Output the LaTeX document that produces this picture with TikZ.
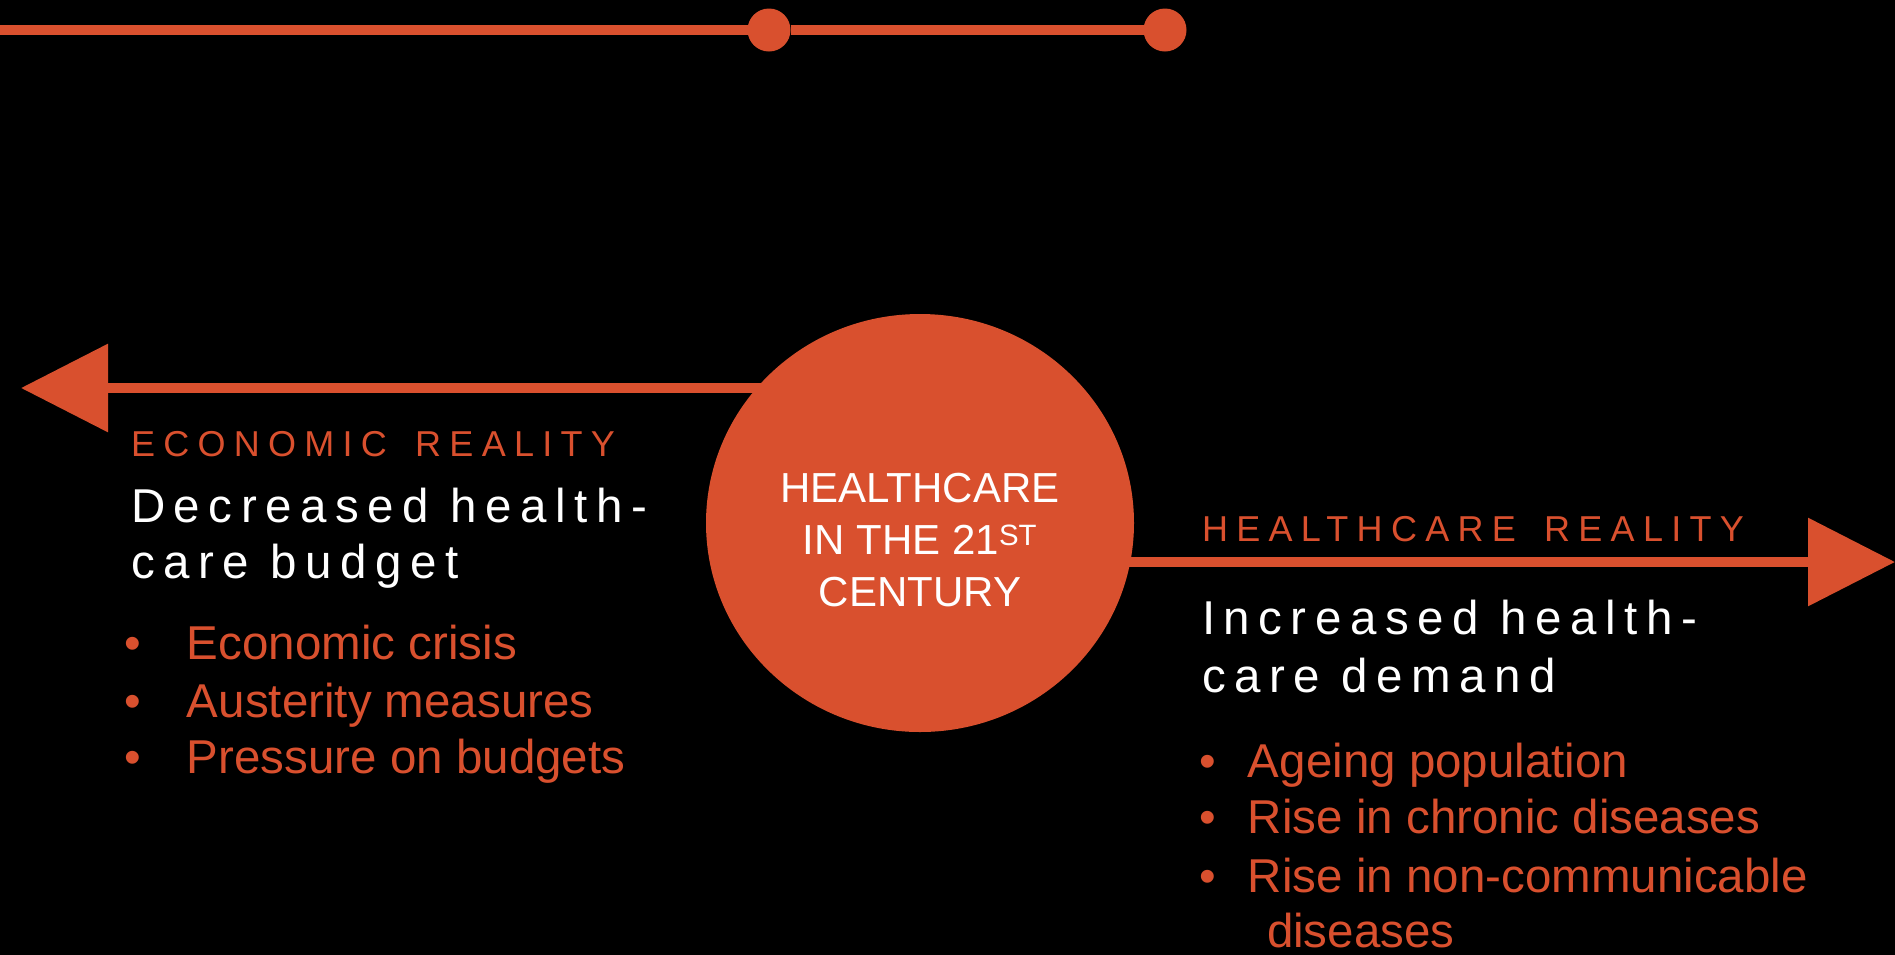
\documentclass[tikz,border=0pt]{standalone}
\usepackage{fontspec}
\setmainfont{Liberation Sans}
\newfontfamily\headfont[LetterSpace=18]{Liberation Sans}
\newfontfamily\capsfont[LetterSpace=23]{Liberation Sans}
\usetikzlibrary{shapes.geometric,arrows.meta}
\definecolor{rust}{RGB}{217,80,46}

\begin{document}
\begin{tikzpicture}[x=1pt,y=-1pt]
\tikzstyle{every node}=[inner sep=0pt, outer sep=0pt]
\tikzstyle{knob}=[circle, fill=rust, minimum size=43pt]
\tikzstyle{bar}=[draw=rust, line width=10pt]
\tikzstyle{bigtip}=[-{Triangle[length=87pt,width=86pt]}]
\tikzstyle{caption}=[anchor=base west, text=rust, font=\capsfont\fontsize{36}{40}\selectfont]
\tikzstyle{subhead}=[anchor=base west, text=white, font=\headfont\fontsize{47.5}{56}\selectfont]
\tikzstyle{point}=[anchor=base west, text=rust, font=\fontsize{47.5}{56}\selectfont]
\useasboundingbox (0,0) rectangle (1895,954);
\fill[black] (-3,-3) rectangle (1898,957);
\coordinate (start) at (0,30);
\node[knob] (k1) at (769,30) {};
\node[knob] (k2) at (1165,30) {};
\draw[bar] (start) -- (k1) -- (k2);
\coordinate (hubc) at (920,523);
\coordinate (lefttip) at (21,388);
\coordinate (righttip) at (1895,562);
\draw[bar, bigtip] (hubc |- lefttip) -- (lefttip);
\draw[bar, bigtip] (hubc |- righttip) -- (righttip);
\node[ellipse, fill=rust, minimum width=428pt, minimum height=418pt] (hub) at (hubc) {};
\node[align=center, text=white, font=\fontsize{42}{52}\selectfont] (hubtext)
  at ([yshift=-17pt]hub.center) {HEALTHCARE\\IN THE 21\textsuperscript{ST}\\CENTURY};
\node[caption] (econ) at (131,456) {ECONOMIC\hspace{10pt} REALITY};
\node[subhead] (dec1) at (131,522) {Decreased health-};
\node[subhead] (dec2) at (131,578) {care budget};
\node[point] (e1) at (124,659) {\makebox[63pt][l]{\textbullet}Economic crisis};
\node[point] (e2) at (124,717) {\makebox[63pt][l]{\textbullet}Austerity measures};
\node[point] (e3) at (124,773) {\makebox[63pt][l]{\textbullet}Pressure on budgets};
\node[caption] (hcare) at (1202,541) {HEALTHCARE\hspace{10pt} REALITY};
\node[subhead] (inc1) at (1202,634) {Increased health-};
\node[subhead] (inc2) at (1202,692) {care demand};
\node[point] (d1) at (1199,777) {\makebox[49pt][l]{\textbullet}Ageing population};
\node[point] (d2) at (1199,833) {\makebox[49pt][l]{\textbullet}Rise in chronic diseases};
\node[point] (d3) at (1199,892) {\makebox[49pt][l]{\textbullet}Rise in non-communicable};
\node[point] (d4) at (1267,947) {diseases};
\end{tikzpicture}
\end{document}
